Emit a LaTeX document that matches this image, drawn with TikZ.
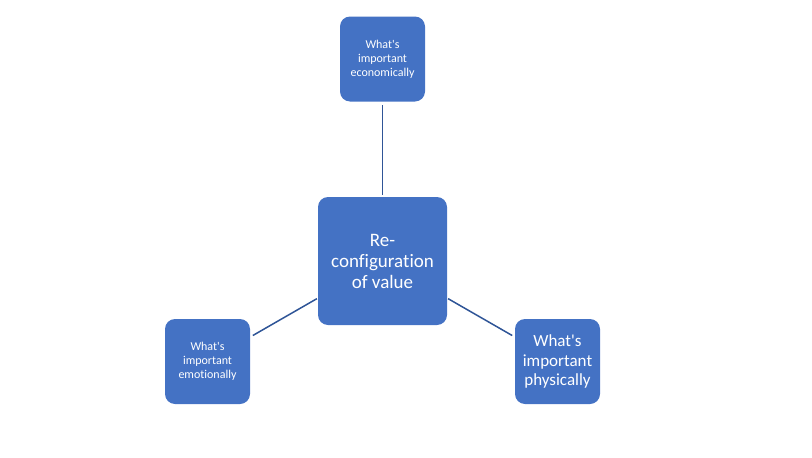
\documentclass[tikz,border=0pt]{standalone}
\usepackage{fontspec}
\setmainfont{Carlito}[Ligatures=NoCommon]
\usetikzlibrary{positioning, calc}
\definecolor{boxblue}{RGB}{68,114,196}
\definecolor{linkblue}{RGB}{47,85,151}

\begin{document}
\begin{tikzpicture}[x=1pt, y=-1pt,
    valbox/.style={draw=none, fill=boxblue, rounded corners=10pt, text=white,
        align=center, inner sep=0pt},
    link/.style={linkblue, line width=1.5pt}]
            % Marco de la figura
            \useasboundingbox (0,0) rectangle (812,458);

            % Nodo central
            \node[valbox, minimum width=129pt, minimum height=128pt,
                font=\fontsize{19}{21}\selectfont] (core) at (382.5,261)
                {Re-\\configuration\\of value};

            % Nodos exteriores
            \node[valbox, minimum width=85pt, minimum height=85pt,
                font=\fontsize{12}{14}\selectfont] (eco) at (382.5,59)
                {What\textquotesingle s\\important\\economically};
            \node[valbox, minimum width=85pt, minimum height=85pt,
                font=\fontsize{12}{14}\selectfont] (emo) at (207.5,361.5)
                {What\textquotesingle s\\important\\emotionally};
            \node[valbox, minimum width=85pt, minimum height=85pt,
                font=\fontsize{17}{19.5}\selectfont] (phy) at (557.5,361.5)
                {What\textquotesingle s\\important\\physically};

            % Conexiones
            \draw[link, shorten <=2pt, shorten >=3pt] (core) -- (eco);
            \draw[link, shorten <=1pt, shorten >=3pt] (core) -- (emo);
            \draw[link, shorten <=1pt, shorten >=3pt] (core) -- (phy);
        \end{tikzpicture}
\end{document}
